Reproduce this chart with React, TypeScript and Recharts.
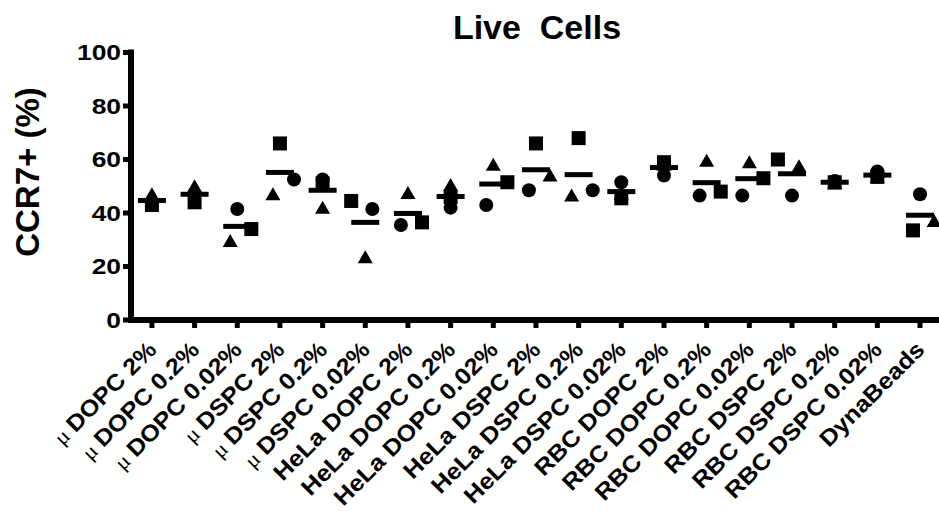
import React from 'react';
import { ComposedChart, Scatter, XAxis, YAxis } from 'recharts';

const CATEGORIES = [
  'μ DOPC 2%', 'μ DOPC 0.2%', 'μ DOPC 0.02%', 'μ DSPC 2%', 'μ DSPC 0.2%', 'μ DSPC 0.02%',
  'HeLa DOPC 2%', 'HeLa DOPC 0.2%', 'HeLa DOPC 0.02%', 'HeLa DSPC 2%', 'HeLa DSPC 0.2%', 'HeLa DSPC 0.02%',
  'RBC DOPC 2%', 'RBC DOPC 0.2%', 'RBC DOPC 0.02%', 'RBC DSPC 2%', 'RBC DSPC 0.2%', 'RBC DSPC 0.02%',
  'DynaBeads',
];

// replicate values (CCR7+ %), one per donor/marker
const SQUARE_VALUES = [43, 44, 34, 66, 51, 44.5, 36.5, 46, 51.5, 66, 68, 45.5, 59, 48, 53, 60, 51.5, 53.5, 33.5];
const TRIANGLE_VALUES = [47, 50, 29.5, 47, 42, 23.5, 47.5, 50.5, 58, 54, 46.5, 47, 58, 59.5, 59, 57.5, 51, 53.5, 37];
const CIRCLE_VALUES = [44, 47, 41.5, 52.5, 52.5, 41.5, 35.5, 42, 43, 48.5, 48.5, 51.5, 54, 46.5, 46.5, 46.5, 52, 55.5, 47];

// scatter slot of each point inside its column (-2..2), as in the dot plot
const SQUARE_SLOT = [0, 0, 2, 0, 0, -2, 2, 0, 2, 0, 0, 0, 0, 2, 2, -2, 0, 0, -1];
const TRIANGLE_SLOT = [0, 0, -1, -1, 0, 0, 0, 0, 0, 2, -1, 0, 0, 0, 0, 1, 0, 0, 2];
const CIRCLE_SLOT = [0, 0, 0, 2, 0, 1, -1, 0, -1, -1, 2, 0, 0, -1, -1, 0, 0, 0, 0];

const Y_TICKS = [0, 20, 40, 60, 80, 100];

const SLOT_WIDTH = 0.165;
const FONT = '"Liberation Sans", Arial, Helvetica, sans-serif';

const toPoints = (values: number[], slots: number[]) =>
  values.map((v, i) => ({ x: i + slots[i] * SLOT_WIDTH, y: v }));

const squares = toPoints(SQUARE_VALUES, SQUARE_SLOT);
const triangles = toPoints(TRIANGLE_VALUES, TRIANGLE_SLOT);
const circles = toPoints(CIRCLE_VALUES, CIRCLE_SLOT);
const means = CATEGORIES.map((_, i) => ({
  x: i,
  y: (SQUARE_VALUES[i] + TRIANGLE_VALUES[i] + CIRCLE_VALUES[i]) / 3,
}));

const SquareShape = (p: any) => <rect x={p.cx - 7} y={p.cy - 7} width={14} height={14} fill="#000" />;
const TriangleShape = (p: any) => (
  <polygon points={`${p.cx},${p.cy - 7} ${p.cx + 7.5},${p.cy + 6} ${p.cx - 7.5},${p.cy + 6}`} fill="#000" />
);
const CircleShape = (p: any) => <circle cx={p.cx} cy={p.cy} r={7} fill="#000" />;
const MeanShape = (p: any) => <rect x={p.cx - 14} y={p.cy - 2.5} width={28} height={5} fill="#000" />;

const XTick = (props: any) => {
  const { x, y, payload } = props;
  const label: string = CATEGORIES[payload.value] ?? '';
  const hasMu = label.startsWith('μ ');
  const rest = hasMu ? label.slice(2) : label;
  return (
    <g transform={`translate(${x + 6},${y + 21}) rotate(-45) scale(1.1,1)`}>
      <text textAnchor="end" fontSize={23} fontWeight="bold" fontFamily={FONT} fill="#000" style={{ whiteSpace: 'pre' }}>
        {hasMu && (
          <tspan fontWeight="normal" fontSize={21} fontFamily='"Liberation Serif", serif'>
            {'μ '}
          </tspan>
        )}
        {rest}
      </text>
    </g>
  );
};

const YTick = (props: any) => {
  const { x, y, payload } = props;
  return (
    <g transform={`translate(${x},${y}) scale(1.2,1)`}>
      <text textAnchor="end" dy="0.36em" fontSize={22} fontWeight="bold" fontFamily={FONT} fill="#000">
        {payload.value}
      </text>
    </g>
  );
};

export default function App() {
  return (
    <div style={{ position: 'absolute', left: 0, top: 0, width: 939, height: 511, background: '#fff' }}>
      <ComposedChart width={939} height={511} margin={{ top: 52.5, right: 0, bottom: 0, left: 0 }}>
        <XAxis
          type="number"
          dataKey="x"
          domain={[-0.49, 18.445]}
          ticks={CATEGORIES.map((_, i) => i)}
          allowDataOverflow
          height={191}
          axisLine={{ stroke: '#000', strokeWidth: 6, strokeLinecap: 'square' }}
          tickLine={{ stroke: '#000', strokeWidth: 5 }}
          tickSize={8}
          tick={<XTick />}
          interval={0}
        />
        <YAxis
          type="number"
          dataKey="y"
          domain={[0, 100]}
          ticks={Y_TICKS}
          width={131}
          axisLine={{ stroke: '#000', strokeWidth: 6, strokeLinecap: 'square' }}
          tickLine={{ stroke: '#000', strokeWidth: 5 }}
          tickSize={8}
          tick={<YTick />}
          interval={0}
        />
        <Scatter data={squares} dataKey="y" shape={SquareShape} isAnimationActive={false} />
        <Scatter data={triangles} dataKey="y" shape={TriangleShape} isAnimationActive={false} />
        <Scatter data={circles} dataKey="y" shape={CircleShape} isAnimationActive={false} />
        <Scatter data={means} dataKey="y" shape={MeanShape} isAnimationActive={false} />
      </ComposedChart>
      <svg width={939} height={511} style={{ position: 'absolute', left: 0, top: 0, pointerEvents: 'none' }}>
        <text x={537} y={39} textAnchor="middle" fontSize={34} fontWeight="bold" fontFamily={FONT} style={{ whiteSpace: 'pre' }}>
          {'Live  Cells'}
        </text>
        <text transform="translate(39,172) rotate(-90)" textAnchor="middle" fontSize={33} fontWeight="bold" fontFamily={FONT}>
          CCR7+ (%)
        </text>
      </svg>
    </div>
  );
}
